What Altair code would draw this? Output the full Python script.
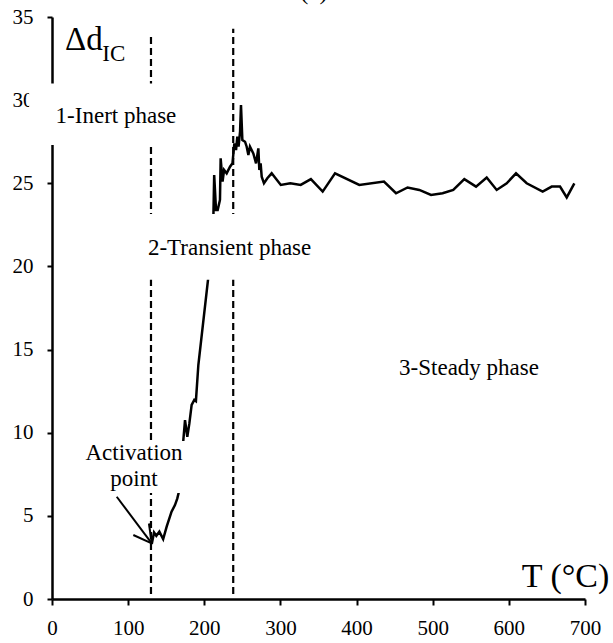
import altair as alt
import pandas as pd

# ---- curve (temperature, delta d_IC) ----
T_vals = [131, 134, 137, 141, 146, 150.6, 157, 161.5, 164.6, 168,
          172.5, 174.7, 177.7, 180.4, 183.4, 186.9, 189, 192.2, 205.4,
          212, 213, 215.4, 217.6, 220.6, 221.5, 224, 226, 229.4, 233.8,
          237, 239.5, 241.7, 243.4, 245, 247, 248.2, 250, 253.5, 255.7,
          257.9, 260, 264.4, 268, 271, 272.3, 274, 275.4, 278.4, 282.8,
          288.5, 300.5, 313, 326.6, 340, 355.5, 371.7, 403.6, 436, 451.8,
          467, 482.4, 497.8, 513, 527, 541.5, 556.9, 570.9, 584, 597.2,
          609.4, 623.4, 644.4, 656.3, 667.2, 676, 686]
D_vals = [3.3, 4.0, 3.8, 4.05, 3.6, 4.35, 5.25, 5.65, 6.05, 6.7,
          9.56, 10.76, 9.76, 10.56, 11.67, 11.97, 11.9, 14.07, 19.4,
          23.1, 25.5, 23.4, 23.4, 24.0, 26.5, 25.1, 25.8, 25.6, 26.0,
          26.2, 27.4, 27.0, 27.8, 27.2, 28.1, 29.7, 27.6, 27.5, 27.2,
          26.7, 27.2, 26.8, 26.2, 27.1, 25.8, 26.2, 25.4, 25.0, 25.3,
          25.6, 24.9, 25.0, 24.9, 25.25, 24.5, 25.6, 24.9, 25.1, 24.4,
          24.75, 24.6, 24.3, 24.4, 24.6, 25.25, 24.8, 25.35, 24.6, 25.0,
          25.6, 25.0, 24.5, 24.8, 24.8, 24.15, 25.0]

x_ticks = [0, 100, 200, 300, 400, 500, 600, 700]
y_ticks = [0, 5, 10, 15, 20, 25, 30, 35]

# phase boundaries (dashed lines)
phase_T = [130, 238]
phase_bottom = [0.3, 0.3]
phase_top = [33.8, 34.3]

# annotation anchors (data coordinates)
box_T = [-30, 115, 41]
box_T2 = [196, 368, 176]
box_D = [27.3, 19.2, 6.37]
box_D2 = [31.0, 23.15, 9.5]

center_labels = ["1-Inert phase", "3-Steady phase", "Activation", "point"]
center_T = [84, 547.7, 107.7, 107.7]
center_D = [28.6, 13.47, 8.36, 6.8]

left_labels = ["2-Transient  phase"]
left_T = [126]
left_D = [20.7]

arrow_T = [85, 106.8, 127.3]
arrow_D = [6.15, 3.85, 4.54]
arrow_T2 = [131, 131, 131]
arrow_D2 = [3.35, 3.35, 3.35]

FONT = "Liberation Serif"

x_scale = alt.Scale(domain=[0, 700], nice=False, zero=False)
y_scale = alt.Scale(domain=[0, 35], nice=False, zero=False)

x_axis = alt.Axis(values=x_ticks, title=None, grid=False,
                  labelFontSize=21, labelColor="black", domainColor="black",
                  domainWidth=2.5, tickColor="black", tickWidth=2, tickSize=6,
                  labelPadding=12, labelFlush=False, labelOverlap=False)
y_axis = alt.Axis(values=y_ticks, title=None, grid=False,
                  labelFontSize=21, labelColor="black", domainColor="black",
                  domainWidth=2.5, tickColor="black", tickWidth=2, tickSize=5,
                  labelPadding=14, labelFlush=False, labelOverlap=False)


def X(f="T"):
    return alt.X(f"{f}:Q", scale=x_scale, axis=x_axis)


def Y(f="D"):
    return alt.Y(f"{f}:Q", scale=y_scale, axis=y_axis)


line_df = pd.DataFrame({"T": T_vals, "D": D_vals, "i": list(range(len(T_vals)))})
line = alt.Chart(line_df).mark_line(color="black", strokeWidth=2.5).encode(
    x=X(), y=Y(), order="i:Q")

dash_df = pd.DataFrame({"T": phase_T, "D": phase_bottom, "D2": phase_top})
dashes = alt.Chart(dash_df).mark_rule(color="black", strokeWidth=2.2,
                                      strokeDash=[7, 4]).encode(
    x=X(), y=Y(), y2="D2:Q")

arrow_df = pd.DataFrame({"T": arrow_T, "D": arrow_D, "T2": arrow_T2, "D2": arrow_D2})
arrow = alt.Chart(arrow_df).mark_rule(color="black", strokeWidth=2).encode(
    x=X(), y=Y(), x2="T2:Q", y2="D2:Q")

box_df = pd.DataFrame({"T": box_T, "T2": box_T2, "D": box_D, "D2": box_D2})
boxes = alt.Chart(box_df).mark_rect(fill="white").encode(
    x=X(), x2="T2:Q", y=Y(), y2="D2:Q")

c_df = pd.DataFrame({"label": center_labels, "T": center_T, "D": center_D})
c_text = alt.Chart(c_df).mark_text(fontSize=23, color="black",
                                   align="center", baseline="alphabetic").encode(
    x=X(), y=Y(), text="label:N")

l_df = pd.DataFrame({"label": left_labels, "T": left_T, "D": left_D})
l_text = alt.Chart(l_df).mark_text(fontSize=23, color="black",
                                   align="left", baseline="alphabetic").encode(
    x=X(), y=Y(), text="label:N")

ylab_df = pd.DataFrame({"label": ["\u0394d"], "T": [17], "D": [33.0]})
ylab = alt.Chart(ylab_df).mark_text(fontSize=33, color="black",
                                    align="left", baseline="alphabetic").encode(
    x=X(), y=Y(), text="label:N")

sub_df = pd.DataFrame({"label": ["IC"], "T": [66], "D": [32.35]})
sub = alt.Chart(sub_df).mark_text(fontSize=23, color="black",
                                  align="left", baseline="alphabetic").encode(
    x=X(), y=Y(), text="label:N")

xlab_df = pd.DataFrame({"label": ["T (\u00b0C)"], "T": [617], "D": [0.72]})
xlab = alt.Chart(xlab_df).mark_text(fontSize=34, color="black",
                                    align="left", baseline="alphabetic").encode(
    x=X(), y=Y(), text="label:N")

title_df = pd.DataFrame({"label": ["(a)"], "T": [344], "D": [36.1]})
title = alt.Chart(title_df).mark_text(fontSize=25, color="black",
                                      align="center", baseline="alphabetic").encode(
    x=X(), y=Y(), text="label:N")

chart = alt.layer(dashes, line, arrow, boxes, c_text, l_text, ylab, sub, xlab, title).properties(
    width=533, height=582,
    autosize=alt.AutoSizeParams(type="none"),
    padding={"left": 52, "top": 17, "right": 28, "bottom": 44},
).configure(font=FONT).configure_axis(labelFont=FONT).configure_text(font=FONT).configure_view(stroke=None)

chart.save("out.html", embed_options={"renderer": "svg", "actions": False})
